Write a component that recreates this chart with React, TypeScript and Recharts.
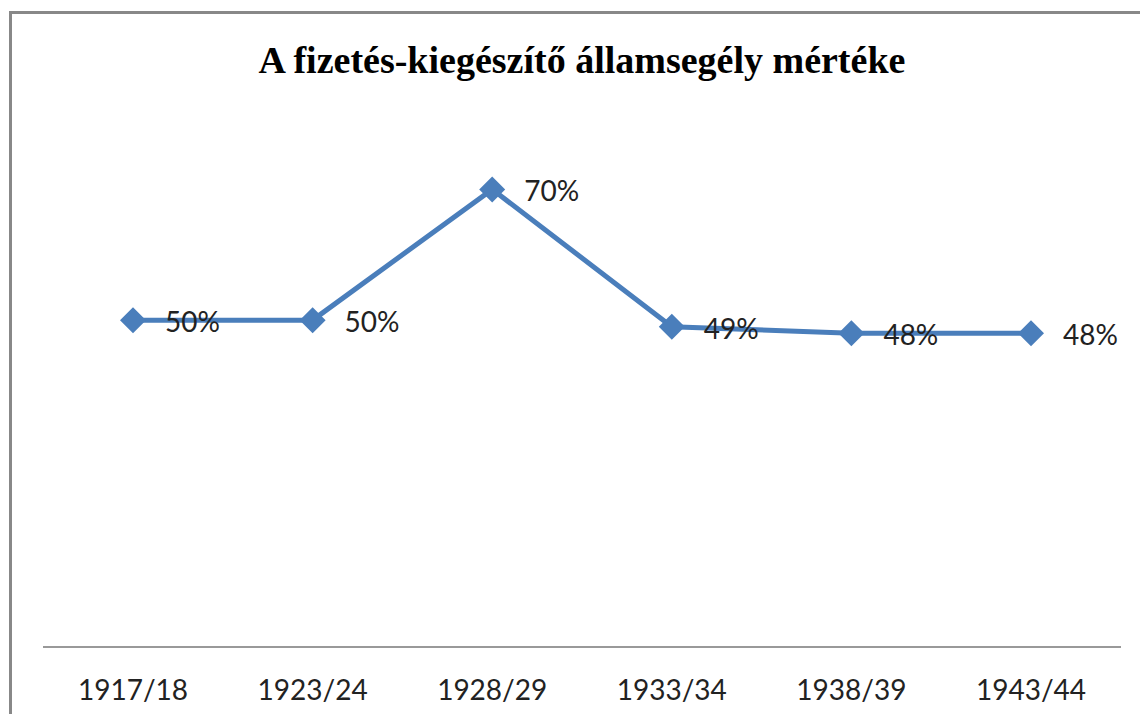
import React from 'react';
import { LineChart, Line, XAxis, YAxis, LabelList } from 'recharts';

const years = ['1917/18', '1923/24', '1928/29', '1933/34', '1938/39', '1943/44'];
const rates = [50, 50, 70, 49, 48, 48];

const data = years.map((year, i) => ({ year, rate: rates[i] }));

const Diamond = (props: any) => {
  const { cx, cy } = props;
  if (cx == null || cy == null) return null;
  const r = 13;
  return (
    <polygon
      points={`${cx},${cy - r} ${cx + r},${cy} ${cx},${cy + r} ${cx - r},${cy}`}
      fill="#4A7EBB"
    />
  );
};

const RateLabel = (props: any) => {
  const { x, y, value } = props;
  return (
    <text x={x + 32} y={y + 12} fontSize={28} fill="#222" fontFamily="Lato, sans-serif">
      {`${value}%`}
    </text>
  );
};

const App = () => {
  return (
    <div style={{ position: 'relative', width: 1148, height: 722, margin: -8, overflow: 'hidden', background: '#fff' }}>
      <div
        style={{
          position: 'absolute',
          left: 9,
          top: 11,
          width: 1200,
          height: 800,
          border: '3px solid #888',
        }}
      />
      <div
        style={{
          position: 'absolute',
          top: 38,
          left: 0,
          width: 1164,
          textAlign: 'center',
          fontFamily: '"Liberation Serif", serif',
          fontWeight: 'bold',
          fontSize: 38,
          color: '#000',
        }}
      >
        A fizetés-kiegészítő államsegély mértéke
      </div>
      <div style={{ position: 'absolute', left: 0, top: 0 }}>
        <LineChart width={1148} height={722} data={data} margin={{ top: 124, right: 27, bottom: 0, left: 43 }}>
          <XAxis
            dataKey="year"
            height={75}
            padding={{ left: 90, right: 90 }}
            axisLine={{ stroke: '#999', strokeWidth: 2 }}
            tickLine={false}
            tickMargin={27}
            interval={0}
            tick={{ fontSize: 28, fill: '#222', fontFamily: 'Lato, sans-serif' }}
          />
          <YAxis hide domain={[0, 80]} />
          <Line
            type="linear"
            dataKey="rate"
            stroke="#4A7EBB"
            strokeWidth={5}
            dot={<Diamond />}
            activeDot={false}
            isAnimationActive={false}
          >
            <LabelList dataKey="rate" content={<RateLabel />} />
          </Line>
        </LineChart>
      </div>
    </div>
  );
};

export default App;
